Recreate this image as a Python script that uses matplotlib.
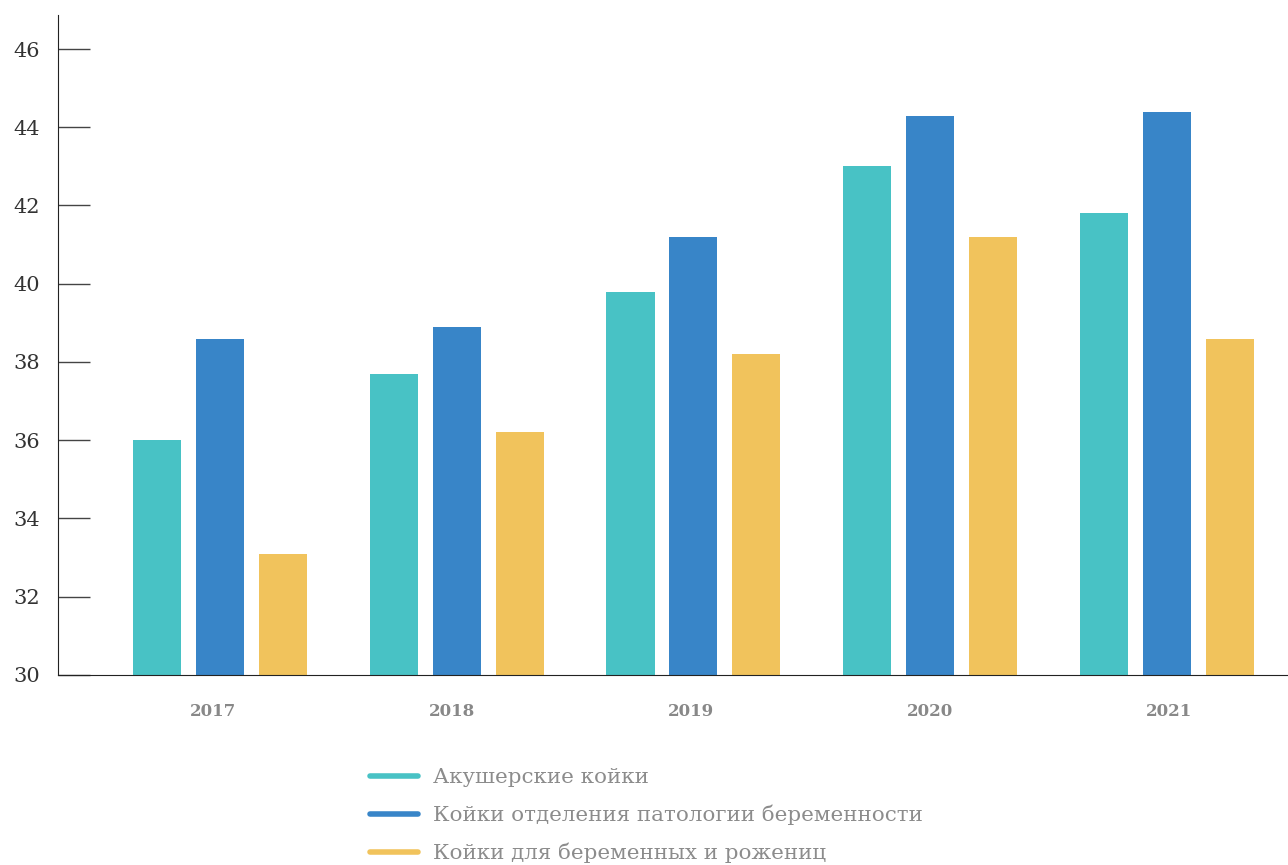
import numpy as np
import matplotlib
matplotlib.use("Agg")
from matplotlib import pyplot as plt
from matplotlib.lines import Line2D

years = ["2017", "2018", "2019", "2020", "2021"]
series_names = [
    "Акушерские койки",
    "Койки отделения патологии беременности",
    "Койки для беременных и рожениц",
]
obstetric = [36.0, 37.7, 39.8, 43.0, 41.8]
pathology = [38.6, 38.9, 41.2, 44.3, 44.4]
pregnant = [33.1, 36.2, 38.2, 41.2, 38.6]
colors = ["#48C2C5", "#3885C8", "#F1C35C"]

plt.rcParams["font.family"] = ["DejaVu Serif"]

fig = plt.figure(figsize=(12.88, 8.65), dpi=100)
ax = fig.add_axes([0.045, 0.2197, 0.955, 0.763])

x = np.arange(len(years))
offset = 0.266
width = 0.203
base = 30
for k, vals in enumerate([obstetric, pathology, pregnant]):
    heights = [v - base for v in vals]
    ax.bar(x + (k - 1) * offset, heights, width, bottom=base, color=colors[k])

ax.set_xlim(-0.684, 4.511)
ax.set_ylim(30, 46.87)

ax.spines["top"].set_visible(False)
ax.spines["right"].set_visible(False)
ax.spines["left"].set_color("#222222")
ax.spines["bottom"].set_color("#222222")

ax.set_yticks(np.arange(30, 47, 2))
ax.tick_params(axis="y", direction="in", length=23, width=1, color="#444444",
               labelsize=15, labelcolor="#333333", pad=13)
# year labels sit on a slightly wider grid than the bar groups
ax.set_xticks(x * 1.0095 - 0.03)
ax.set_xticklabels(years, fontsize=12, fontweight="bold", color="#888888")
ax.tick_params(axis="x", length=0, pad=20)

handles = [Line2D([0], [0], color=c, linewidth=4, solid_capstyle="round") for c in colors]
leg = fig.legend(handles, series_names, loc="upper left", bbox_to_anchor=(0.281, 0.122),
                 frameon=False, fontsize=15.4, handlelength=2.2, handletextpad=0.7,
                 labelspacing=0.82, borderaxespad=0)
for t in leg.get_texts():
    t.set_color("#8C8C8C")

fig.savefig("out.png", dpi=100)
